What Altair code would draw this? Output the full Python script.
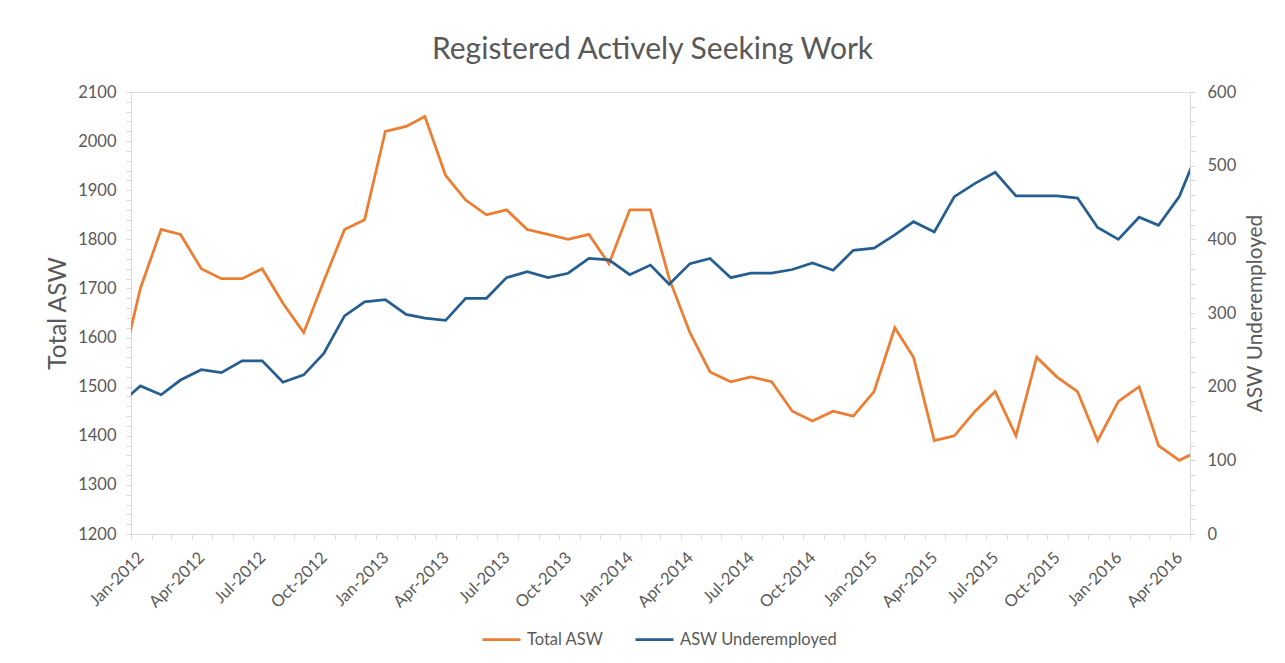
import altair as alt
import pandas as pd

# Monthly observations (plotted mid-month); Dec-2011 and May-2016 only show as clipped edge segments
months = ["2011-12"] + [f"{y}-{m:02d}" for y in range(2012, 2017) for m in range(1, 13)
                        if (y, m) <= (2016, 5)]

total_asw = [1520,
             1700, 1820, 1810, 1740, 1720, 1720, 1740, 1670, 1610, 1715, 1820, 1840,
             2020, 2030, 2050, 1930, 1880, 1850, 1860, 1820, 1810, 1800, 1810, 1750,
             1860, 1860, 1720, 1610, 1530, 1510, 1520, 1510, 1450, 1430, 1450, 1440,
             1490, 1620, 1560, 1390, 1400, 1450, 1490, 1400, 1560, 1520, 1490, 1390,
             1470, 1500, 1380, 1350, 1370]

asw_underemployed = [176,
                     201, 189, 209, 223, 219, 235, 235, 206, 216, 245, 296, 315,
                     318, 298, 293, 290, 320, 320, 348, 356, 348, 354, 374, 372,
                     352, 365, 339, 367, 374, 348, 354, 354, 359, 368, 358, 385,
                     388, 406, 424, 410, 458, 476, 491, 459, 459, 459, 456, 416,
                     400, 430, 419, 458, 525]

series_names = ["Total ASW", "ASW Underemployed"]
series_colors = ["#ED7D31", "#255E91"]

left_ticks = list(range(1200, 2101, 20))
right_ticks = list(range(0, 601, 20))
x_tick_months = [(y, m) for y in range(2012, 2017) for m in range(1, 13) if (y, m) <= (2016, 5)]

dates = [f"{m}-15T00:00:00" for m in months]
df_total = pd.DataFrame({"date": dates, "value": total_asw, "series": series_names[0]})
df_under = pd.DataFrame({"date": dates, "value": asw_underemployed, "series": series_names[1]})

FONT = "Lato"
GREY = "#595959"
AXIS_GREY = "#D9D9D9"

color = alt.Color(
    "series:N",
    scale=alt.Scale(domain=series_names, range=series_colors),
    legend=alt.Legend(
        orient="none", legendX=350, legendY=527, direction="horizontal", title=None,
        symbolType="stroke", symbolSize=1444, symbolStrokeWidth=2.75,
        labelFont=FONT, labelFontSize=16.5, labelColor=GREY, labelOffset=5,
        columnPadding=26,
    ),
)

x_enc = alt.X(
    "date:T",
    title=None,
    scale=alt.Scale(domain=[alt.DateTime(year=2012, month=1, date=1),
                            alt.DateTime(year=2016, month=5, date=1)]),
    axis=alt.Axis(
        values=[alt.DateTime(year=y, month=m, date=1) for (y, m) in x_tick_months],
        labelExpr="month(datum.value) % 3 == 0 ? timeFormat(datum.value, '%b-%Y') : ''",
        labelAngle=315, labelFont=FONT, labelFontSize=16.5, labelColor=GREY,
        tickSize=5, tickColor=AXIS_GREY, domainColor=AXIS_GREY, labelPadding=10,
        labelOffset=4, labelOverlap=False, grid=False,
    ),
)

left = alt.Chart(df_total).mark_line(clip=True, strokeWidth=2.75).encode(
    x=x_enc,
    y=alt.Y("value:Q", title="Total ASW",
            scale=alt.Scale(domain=[1200, 2100], nice=False, zero=False),
            axis=alt.Axis(orient="left", values=left_ticks, format="d",
                          labelExpr="datum.value % 100 == 0 ? datum.label : ''",
                          labelFont=FONT, labelFontSize=16.5, labelColor=GREY,
                          tickSize=5, tickColor=AXIS_GREY, domainColor=AXIS_GREY,
                          labelPadding=10, grid=False, labelOverlap=False,
                          titleFont=FONT, titleFontSize=24.5, titleFontWeight="normal",
                          titleColor=GREY, titleAngle=270, titlePadding=7)),
    color=color,
)

right = alt.Chart(df_under).mark_line(clip=True, strokeWidth=2.75).encode(
    x=x_enc,
    y=alt.Y("value:Q", title="ASW Underemployed",
            scale=alt.Scale(domain=[0, 600], nice=False),
            axis=alt.Axis(orient="right", values=right_ticks, format="d",
                          labelExpr="datum.value % 100 == 0 ? datum.label : ''",
                          labelFont=FONT, labelFontSize=16.5, labelColor=GREY,
                          tickSize=5, tickColor=AXIS_GREY, domainColor=AXIS_GREY,
                          labelPadding=12, grid=False, labelOverlap=False,
                          titleFont=FONT, titleFontSize=20.8, titleFontWeight="normal",
                          titleColor=GREY, titleAngle=270, titlePadding=30)),
    color=color,
)

chart = alt.layer(left, right).resolve_scale(y="independent").properties(
    width=1059, height=442,
    padding={"left": 123, "top": 84, "right": 87, "bottom": 121},
    autosize=alt.AutoSizeParams(type="none"),
    title=alt.Title("Registered Actively Seeking Work", font=FONT, fontSize=30,
                    fontWeight="normal", color=GREY, anchor="middle", offset=19, dx=-8),
).configure_view(stroke=None).configure(background="white")

chart.save("out.html", embed_options={"renderer": "svg", "actions": False})
